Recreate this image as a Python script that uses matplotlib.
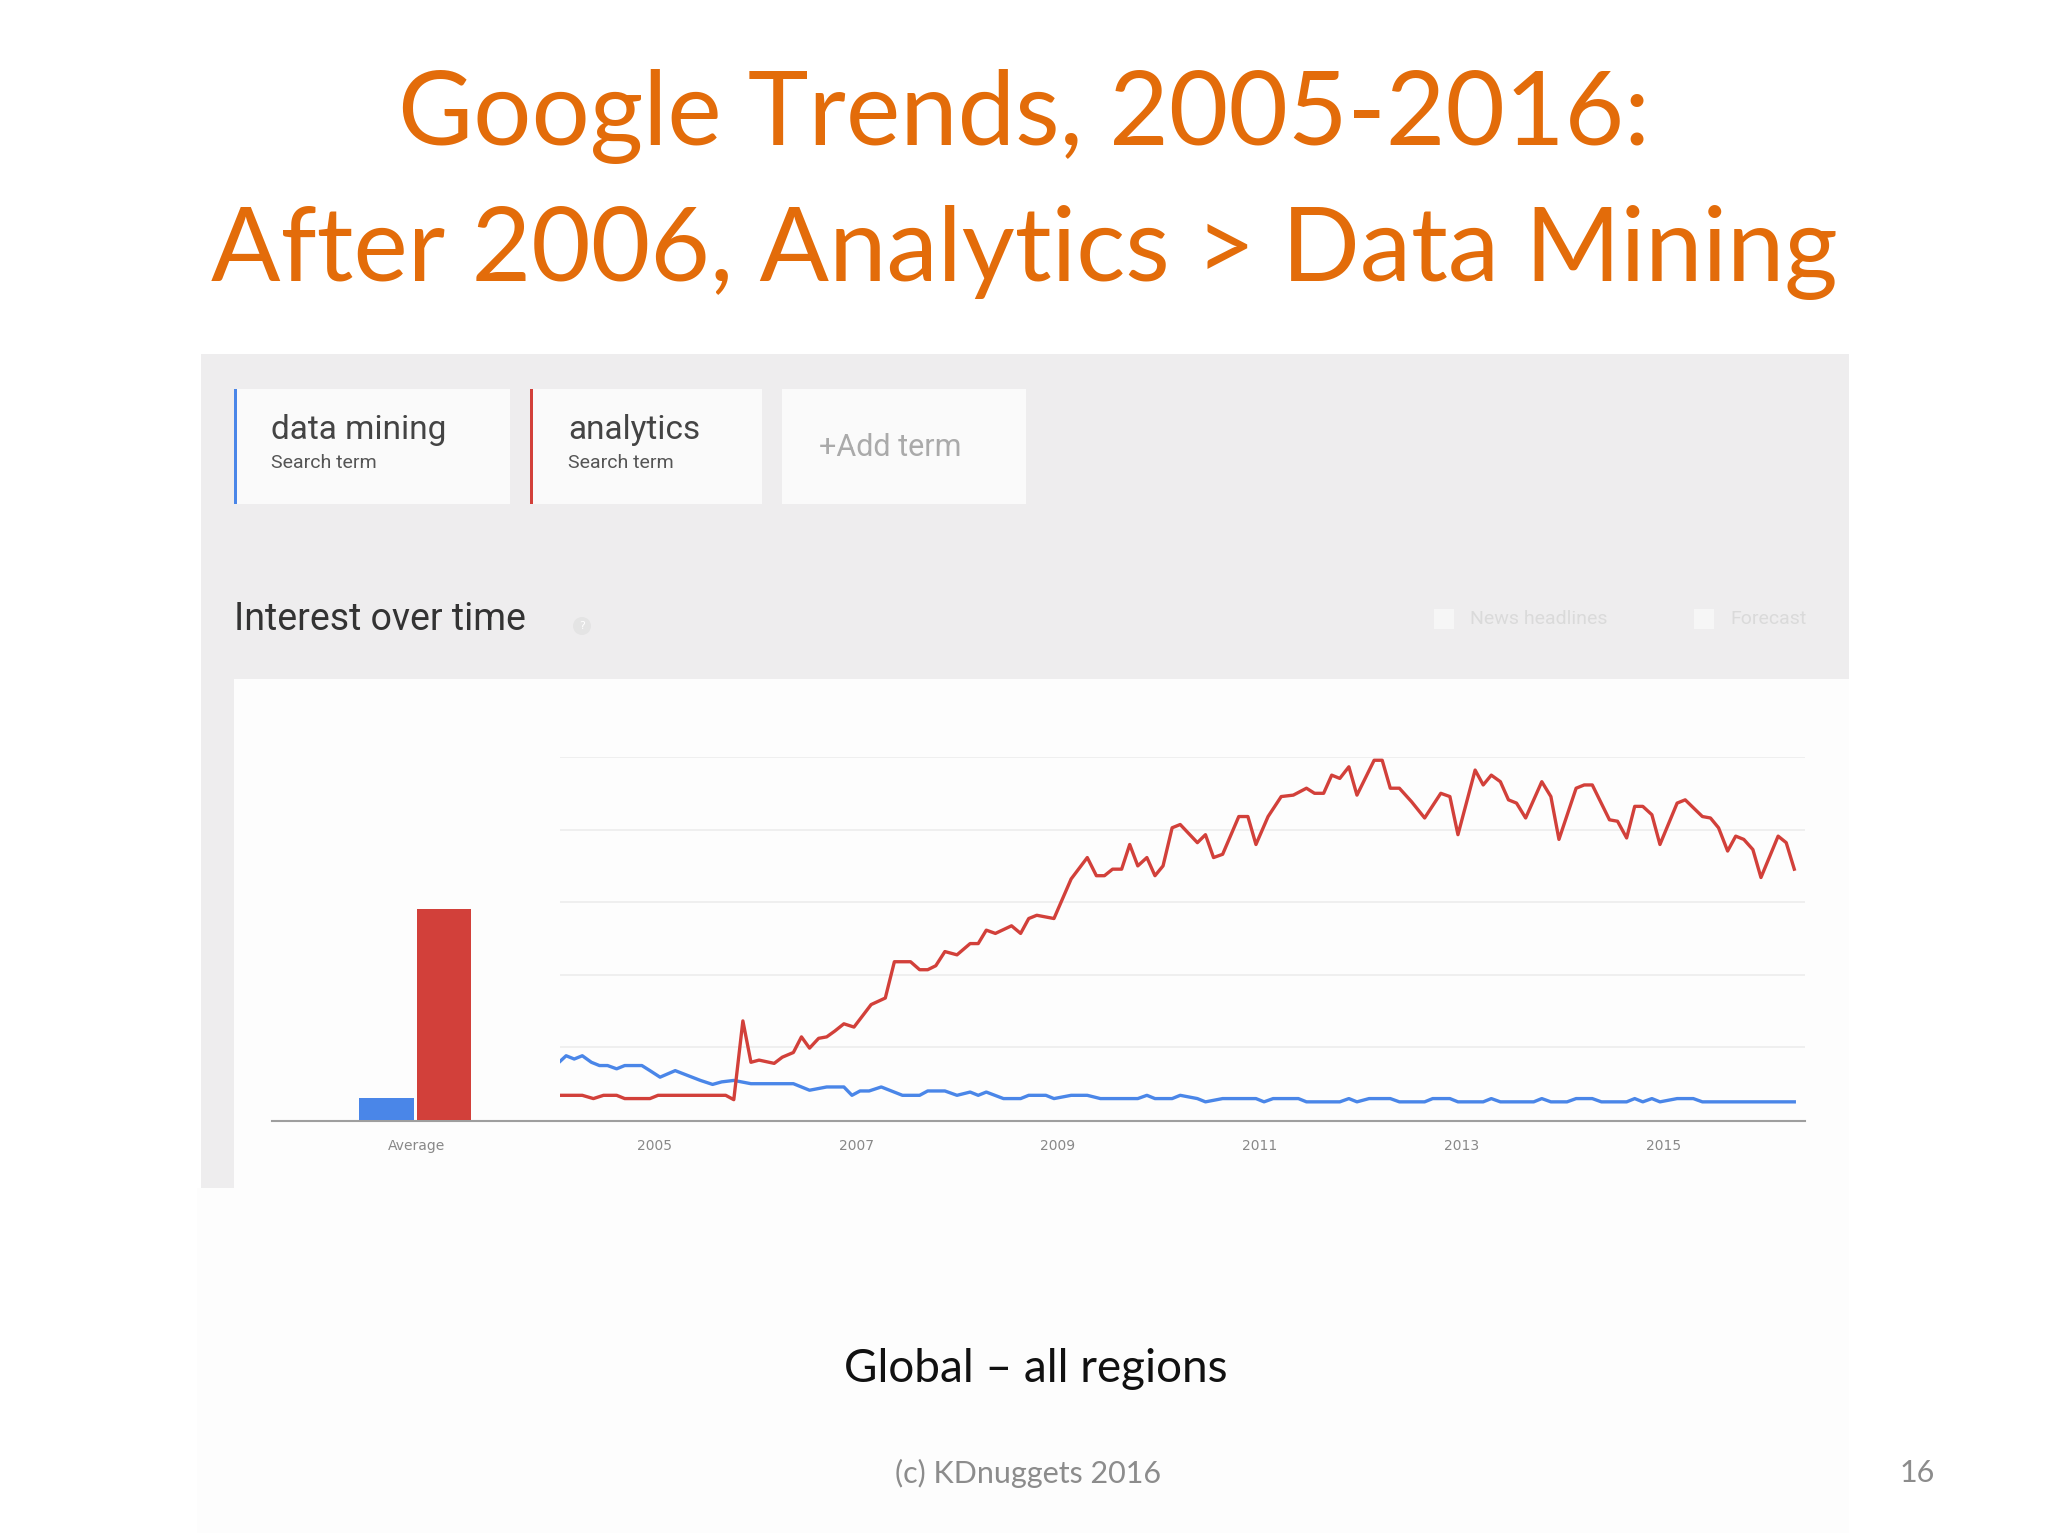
import matplotlib
matplotlib.use("Agg")
import matplotlib.pyplot as plt
from matplotlib.patches import Rectangle, Circle

W, H = 2048, 1536
fig = plt.figure(figsize=(20.48, 15.36), dpi=100)
fig.patch.set_facecolor("white")

def fx(x): return x / W
def fy(y): return 1 - y / H

# ---------------- data ----------------
terms = ["data mining", "analytics"]
avg_values = [6, 58]
year_ticks = [2005, 2007, 2009, 2011, 2013, 2015]

analytics_x = [2004.06, 2004.29, 2004.40, 2004.50, 2004.63, 2004.71, 2004.96, 2005.04, 2005.71, 2005.79,
               2005.88, 2005.96, 2006.04, 2006.19, 2006.27, 2006.38, 2006.46, 2006.54, 2006.63, 2006.71,
               2006.79, 2006.88, 2006.98, 2007.15, 2007.29, 2007.38, 2007.54, 2007.63, 2007.71, 2007.79,
               2007.88, 2008.00, 2008.13, 2008.21, 2008.29, 2008.38, 2008.54, 2008.63, 2008.71, 2008.79,
               2008.96, 2009.13, 2009.29, 2009.38, 2009.46, 2009.54, 2009.63, 2009.71, 2009.79, 2009.88,
               2009.96, 2010.04, 2010.13, 2010.21, 2010.38, 2010.46, 2010.54, 2010.63, 2010.79, 2010.88,
               2010.96, 2011.08, 2011.21, 2011.33, 2011.46, 2011.54, 2011.63, 2011.71, 2011.79, 2011.88,
               2011.96, 2012.13, 2012.21, 2012.29, 2012.38, 2012.50, 2012.63, 2012.79, 2012.88, 2012.96,
               2013.13, 2013.21, 2013.29, 2013.38, 2013.46, 2013.54, 2013.63, 2013.79, 2013.88, 2013.96,
               2014.13, 2014.21, 2014.29, 2014.46, 2014.54, 2014.63, 2014.71, 2014.79, 2014.88, 2014.96,
               2015.13, 2015.21, 2015.38, 2015.46, 2015.54, 2015.63, 2015.71, 2015.79, 2015.88, 2015.96,
               2016.13, 2016.21, 2016.29]
analytics_y = [6.8, 6.8, 5.9, 6.8, 6.8, 5.9, 5.9, 6.8, 6.8, 5.6,
               27.3, 15.9, 16.5, 15.6, 17.3, 18.6, 22.9, 19.8, 22.5, 22.9,
               24.5, 26.5, 25.6, 31.8, 33.6, 43.6, 43.6, 41.4, 41.4, 42.5,
               46.4, 45.5, 48.6, 48.6, 52.3, 51.4, 53.5, 51.4, 55.5, 56.4,
               55.5, 66.4, 72.3, 67.3, 67.3, 69.1, 69.1, 75.9, 70.0, 72.3,
               67.3, 70.0, 80.5, 81.4, 76.4, 78.6, 72.3, 73.2, 83.6, 83.6,
               75.9, 83.6, 89.1, 89.5, 91.4, 90.0, 90.0, 95.0, 94.1, 97.3,
               89.5, 99.1, 99.1, 91.4, 91.4, 87.7, 83.2, 90.0, 89.1, 78.6,
               96.4, 92.3, 95.0, 93.2, 88.2, 87.3, 83.2, 93.2, 89.1, 77.3,
               91.4, 92.3, 92.3, 82.7, 82.3, 77.7, 86.4, 86.4, 84.1, 75.9,
               87.3, 88.2, 83.6, 83.2, 80.5, 74.1, 78.2, 77.3, 74.5, 66.8,
               78.2, 76.4, 69.1]

mining_x = [2004.06, 2004.13, 2004.21, 2004.29, 2004.38, 2004.46, 2004.54, 2004.63, 2004.71, 2004.88,
            2004.96, 2005.06, 2005.21, 2005.33, 2005.46, 2005.58, 2005.67, 2005.79, 2005.96, 2006.38,
            2006.54, 2006.71, 2006.88, 2006.96, 2007.04, 2007.13, 2007.25, 2007.46, 2007.63, 2007.71,
            2007.88, 2008.00, 2008.13, 2008.21, 2008.29, 2008.46, 2008.63, 2008.71, 2008.88, 2008.96,
            2009.13, 2009.29, 2009.42, 2009.79, 2009.88, 2009.96, 2010.13, 2010.21, 2010.38, 2010.46,
            2010.63, 2010.96, 2011.04, 2011.13, 2011.38, 2011.46, 2011.79, 2011.88, 2011.96, 2012.08,
            2012.29, 2012.38, 2012.63, 2012.71, 2012.88, 2012.96, 2013.21, 2013.29, 2013.38, 2013.71,
            2013.79, 2013.88, 2014.04, 2014.13, 2014.29, 2014.38, 2014.63, 2014.71, 2014.79, 2014.88,
            2014.96, 2015.13, 2015.29, 2015.38, 2016.29]
mining_y = [15.9, 17.7, 16.8, 17.7, 15.9, 15.0, 15.0, 14.1, 15.0, 15.0,
            13.6, 11.8, 13.6, 12.3, 10.9, 9.8, 10.5, 10.9, 10.0, 10.0,
            8.2, 9.1, 9.1, 6.8, 8.0, 8.0, 9.1, 6.8, 6.8, 8.0,
            8.0, 6.8, 7.7, 6.8, 7.7, 5.9, 5.9, 6.8, 6.8, 5.9,
            6.8, 6.8, 5.9, 5.9, 6.8, 5.9, 5.9, 6.8, 5.9, 5.0,
            5.9, 5.9, 5.0, 5.9, 5.9, 5.0, 5.0, 5.9, 5.0, 5.9,
            5.9, 5.0, 5.0, 5.9, 5.9, 5.0, 5.0, 5.9, 5.0, 5.0,
            5.9, 5.0, 5.0, 5.9, 5.9, 5.0, 5.0, 5.9, 5.0, 5.9,
            5.0, 5.9, 5.9, 5.0, 5.0]

RED = "#D2403A"
BLUE = "#4A86E8"
ORANGE = "#E36C0A"

# ---------------- background panels ----------------
bg = fig.add_axes([0, 0, 1, 1], zorder=-10)
bg.set_xlim(0, W); bg.set_ylim(H, 0); bg.axis("off")
bg.add_patch(Rectangle((197, 1188), 1652, 345, color="#FDFDFD", lw=0))
bg.add_patch(Rectangle((201, 354), 1648, 834, color="#EEEDEE", lw=0))
bg.add_patch(Rectangle((234, 679), 1615, 509, color="#FDFDFD", lw=0))
for (x0, w, c) in [(234, 276, BLUE), (530, 232, RED), (782, 244, None)]:
    bg.add_patch(Rectangle((x0, 389), w, 115, color="#FAFAFA", lw=0))
    if c:
        bg.add_patch(Rectangle((x0, 389), 3, 115, color=c, lw=0))
bg.add_patch(Circle((582, 626), 9, color="#E4E4E4", lw=0))
bg.add_patch(Rectangle((1434, 609), 20, 20, color="#F6F6F6", lw=0))
bg.add_patch(Rectangle((1694, 609), 20, 20, color="#F6F6F6", lw=0))

# ---------------- texts ----------------
fig.text(0.5, fy(116), "Google Trends, 2005-2016:", ha="center", va="center",
         color=ORANGE, fontsize=74, family="Lato")
fig.text(0.5, fy(252), "After 2006, Analytics > Data Mining", ha="center", va="center",
         color=ORANGE, fontsize=74, family="Lato")

fig.text(fx(271), fy(430), terms[0], fontsize=24, color="#444444", va="center", family="Roboto")
fig.text(fx(271), fy(463), "Search term", fontsize=14, color="#555555", va="center", family="Roboto")
fig.text(fx(568), fy(430), terms[1], fontsize=24, color="#444444", va="center", family="Roboto")
fig.text(fx(568), fy(463), "Search term", fontsize=14, color="#555555", va="center", family="Roboto")
fig.text(fx(819), fy(448), "+Add term", fontsize=22, color="#AAAAAA", va="center", family="Roboto")
fig.text(fx(234), fy(620), "Interest over time", fontsize=27, color="#333333", va="center", family="Roboto")
fig.text(fx(582), fy(626), "?", fontsize=8, color="white", va="center", ha="center")
fig.text(fx(1470), fy(619), "News headlines", fontsize=14, color="#DADADA", va="center", family="Roboto")
fig.text(fx(1730), fy(619), "Forecast", fontsize=14, color="#DADADA", va="center", family="Roboto")

fig.text(fx(1036), fy(1369), "Global – all regions", fontsize=33, ha="center", va="center",
         color="#111111", family="Lato")
fig.text(fx(1028), fy(1473), "(c) KDnuggets 2016", fontsize=22, ha="center", va="center",
         color="#8C8C8C", family="Lato")
fig.text(fx(1917), fy(1473), "16", fontsize=22, ha="center", va="center", color="#8C8C8C", family="Lato")

# ---------------- line chart ----------------
ax = fig.add_axes([fx(560), fy(1120), fx(1805 - 560), (1120 - 757) / H])
ax.set_facecolor("none")
x_left = 2005 + (560 - 654) / 101
x_right = 2005 + (1805 - 654) / 101
ax.set_xlim(x_left, x_right)
ax.set_ylim(0, 100)
for g in [20, 40, 60, 80, 100]:
    ax.axhline(g, color="#EDEDED", lw=1.2, zorder=0)
ax.plot(mining_x, mining_y, color=BLUE, lw=2.4, zorder=3)
ax.plot(analytics_x, analytics_y, color=RED, lw=2.4, zorder=4)
for s in ax.spines.values():
    s.set_visible(False)
ax.set_yticks([])
ax.set_xticks(year_ticks)
ax.set_xticklabels([str(y) for y in year_ticks], fontsize=10, color="#888888", family="Liberation Sans Narrow")
ax.tick_params(axis="x", length=0, pad=14)

# ---------------- average bars ----------------
bx = fig.add_axes([fx(272), fy(1120), fx(560 - 272), (1120 - 757) / H])
bx.set_facecolor("none")
bx.set_xlim(0, 1); bx.set_ylim(0, 100)
bx.bar([0.397, 0.597], avg_values, width=0.19, color=[BLUE, RED], zorder=3)
bx.axis("off")
fig.text(fx(417), fy(1146), "Average", fontsize=10, color="#888888", ha="center", va="center",
         family="Liberation Sans Narrow")

bg.plot([272, 1805], [1121, 1121], color="#9E9E9E", lw=1.5)

fig.savefig("out.png", dpi=100)
